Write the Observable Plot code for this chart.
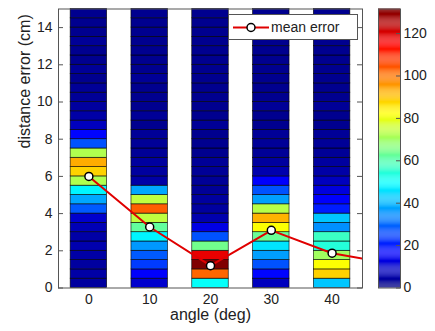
<!DOCTYPE html>
<html>
<head>
<meta charset="utf-8">
<script src="https://cdn.jsdelivr.net/npm/d3@7"></script>
<script src="https://cdn.jsdelivr.net/npm/@observablehq/plot@0.6"></script>
<style>
  html, body { margin: 0; padding: 0; background: white; }
  #wrap { position: relative; width: 435px; height: 331px; font-family: "Liberation Sans", Arial, sans-serif; }
  #wrap > div.layer { position: absolute; top: 0; }
  #legend { position: absolute; left: 228px; top: 14px; width: 130px; height: 26px; box-sizing: border-box;
            border: 1px solid #555; background: white; font-size: 14px; color: #222; }
  #legend svg { position: absolute; left: 2px; top: 4px; }
  #legend span { position: absolute; left: 42px; top: 4px; white-space: nowrap; }
</style>
</head>
<body>
<div id="wrap">
  <div class="layer" id="main" style="left:0"></div>
  <div class="layer" id="cbar" style="left:370px"></div>
  <div id="legend">
    <svg width="40" height="17"><line x1="2" y1="8.5" x2="38" y2="8.5" stroke="#e00000" stroke-width="2"/><circle cx="20" cy="8.5" r="4" fill="white" stroke="black" stroke-width="1.5"/></svg>
    <span>mean error</span>
  </div>
</div>
<script>
// ---- data ----
const angles = [0, 10, 20, 30, 40];
const binSize = 0.5; // cm per cell, cells from 0 to 15 cm (index 0 = bottom)
const counts0  = [4,5,4,5,6,5,7,10,28,38,48,72,88,93,72,27,17,8,5,4,3,3,2,3,2,2,3,2,2,2];
const counts10 = [10,16,24,28,36,48,62,74,103,74,38,5,4,4,3,3,3,2,3,2,2,2,3,2,2,2,2,2,2,2];
const counts20 = [50,102,131.6,118,64,27,13,6,4,4,3,3,3,3,2,2,2,3,2,2,2,2,2,2,2,2,2,2,2,2];
const counts30 = [8,17,27,37,46,63,82,92,73,37,27,16,6,4,3,3,3,2,2,3,2,2,2,2,2,2,2,2,2,2];
const counts40 = [42,88,82,70,54,57,35,42,20,16,12,8,5,4,3,3,3,2,2,3,2,2,2,2,2,2,2,2,2,2];
const meanAngles = [0, 10, 20, 30, 40, 50];
const meanError  = [6.0, 3.28, 1.2, 3.1, 1.87, 1.3];
const yTicks = [0, 2, 4, 6, 8, 10, 12, 14];
const cbTicks = [0, 20, 40, 60, 80, 100, 120];
const colorMax = 131.6;

// ---- derived tables ----
const allCounts = [counts0, counts10, counts20, counts30, counts40];
const cells = angles.flatMap((a, j) => allCounts[j].map((v, i) => ({angle: a, lo: i * binSize, hi: (i + 1) * binSize, v})));
const meanData = meanAngles.map((a, i) => ({angle: a, err: meanError[i]}));

function jet(t) {
  const c = x => Math.max(0, Math.min(1, x));
  const r = c(1.5 - Math.abs(4 * t - 3));
  const g = c(1.5 - Math.abs(4 * t - 2));
  const b = c(1.5 - Math.abs(4 * t - 1));
  return `rgb(${Math.round(r * 255)},${Math.round(g * 255)},${Math.round(b * 255)})`;
}
const colorScale = {type: "linear", domain: [0, colorMax], interpolate: jet};
const font = {fontFamily: "Liberation Sans, Arial, sans-serif", fontSize: "14px", color: "#222", background: "white"};

const W = 435, H = 331, mL = 58, mR = 73, mT = 8.5, mB = 43.5;
const plotW = W - mL - mR;

const main = Plot.plot({
  width: W, height: H, marginLeft: mL, marginRight: mR, marginTop: mT, marginBottom: mB,
  x: {domain: [-5, 45]},
  y: {domain: [0, 15]},
  color: colorScale,
  style: font,
  marks: [
    Plot.tickY(yTicks, {y: d => d, stroke: "#555", insetRight: plotW - 5}),
    Plot.tickY(yTicks, {y: d => d, stroke: "#555", insetLeft: plotW - 5}),
    Plot.rect(cells, {x1: d => d.angle - 3, x2: d => d.angle + 3, y1: "lo", y2: "hi", fill: "v", stroke: "#000", strokeWidth: 0.7, strokeOpacity: 0.85}),
    Plot.line(meanData, {x: "angle", y: "err", stroke: "#e00000", strokeWidth: 2, clip: true}),
    Plot.dot(meanData, {x: "angle", y: "err", r: 4, fill: "white", stroke: "black", strokeWidth: 1.5, clip: true}),
    Plot.frame({stroke: "#555"}),
    Plot.axisX({ticks: angles, tickSize: 0, tickPadding: 6, label: null, fontSize: 14}),
    Plot.axisY({ticks: yTicks, tickSize: 0, tickPadding: 6, label: null, fontSize: 14}),
    Plot.text(["angle (deg)"], {frameAnchor: "bottom", dy: 32, fontSize: 16, fill: "#222"}),
    Plot.text(["distance error (cm)"], {frameAnchor: "left", dx: -34, rotate: -90, fontSize: 16, fill: "#222"})
  ]
});
document.getElementById("main").append(main);

const cb = Plot.plot({
  width: 65, height: H, marginLeft: 8, marginRight: 35, marginTop: mT, marginBottom: mB,
  y: {domain: [0, colorMax]},
  color: colorScale,
  style: font,
  marks: [
    Plot.rect(d3.range(0, colorMax, 0.5), {y1: d => d, y2: d => Math.min(d + 0.5, colorMax), fill: d => d + 0.25}),
    Plot.tickY(cbTicks, {y: d => d, stroke: "#555", insetLeft: 18}),
    Plot.frame({stroke: "#555"}),
    Plot.axisY({anchor: "right", ticks: cbTicks, tickSize: 0, tickPadding: 3, label: null, fontSize: 14})
  ]
});
document.getElementById("cbar").append(cb);
</script>
</body>
</html>
